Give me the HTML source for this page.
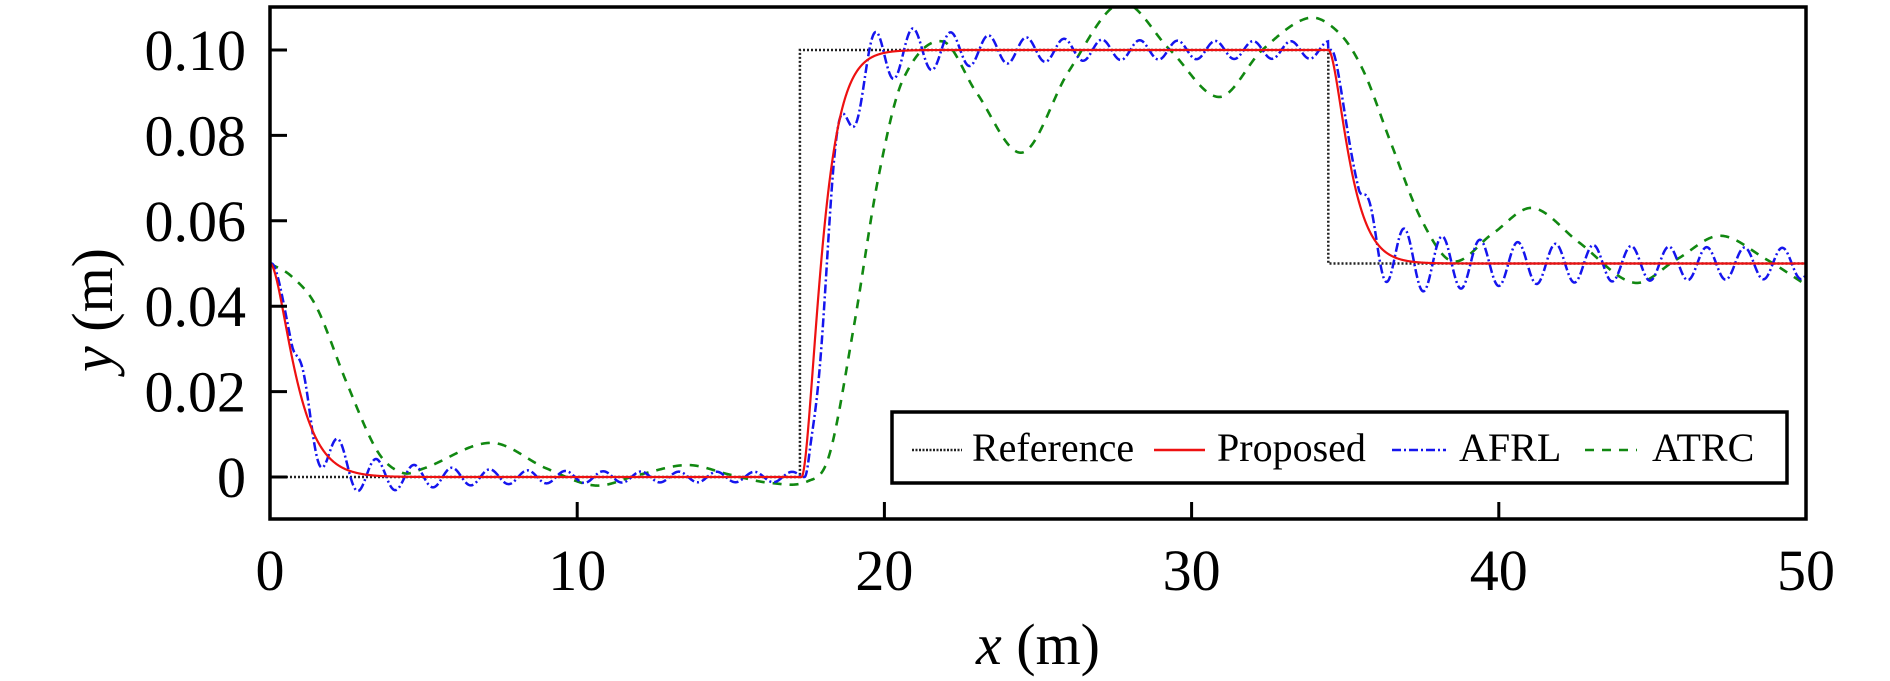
<!DOCTYPE html>
<html><head><meta charset="utf-8"><style>
html,body{margin:0;padding:0;background:#fff;}
svg{display:block;}
text{font-family:"Liberation Serif","Times New Roman",serif;fill:#000;}
</style></head><body>
<svg id="s" width="1890" height="681" viewBox="0 0 1890 681" xmlns="http://www.w3.org/2000/svg">
<defs><clipPath id="cp"><rect x="270" y="7" width="1536" height="512"/></clipPath></defs>
<rect width="1890" height="681" fill="#fff"/>
<g clip-path="url(#cp)">
<path id="ref" fill="none" stroke="#222" stroke-width="2.5" stroke-dasharray="2,2"/>
<path id="grn" fill="none" stroke="#118811" stroke-width="2.6" stroke-dasharray="9,8"/>
<path id="blu" fill="none" stroke="#1515ee" stroke-width="2.5" stroke-dasharray="9,3,2,3"/>
<path id="red" fill="none" stroke="#ee1111" stroke-width="2.2"/>
</g>
<rect x="270" y="7" width="1536" height="512" fill="none" stroke="#000" stroke-width="3.5"/>
<g stroke="#000" stroke-width="3" id="ticks"></g>
<g font-size="58" text-anchor="end" id="ylab"></g>
<g font-size="58" text-anchor="middle" id="xlab"></g>
<text x="0" y="0" font-size="58" text-anchor="middle" transform="translate(112,310) rotate(-90)"><tspan font-style="italic">y</tspan> (m)</text>
<text x="1038" y="664" font-size="58" text-anchor="middle"><tspan font-style="italic">x</tspan> (m)</text>
<rect x="892" y="412" width="895" height="71" fill="#fff" stroke="#000" stroke-width="3.5"/>
<line x1="912" y1="450" x2="962" y2="450" stroke="#222" stroke-width="2.5" stroke-dasharray="2,1.5"/>
<text x="972" y="461" font-size="40">Reference</text>
<line x1="1154" y1="450" x2="1205" y2="450" stroke="#ee1111" stroke-width="2.5"/>
<text x="1217" y="461" font-size="40">Proposed</text>
<line x1="1392" y1="450" x2="1446" y2="450" stroke="#1515ee" stroke-width="2.5" stroke-dasharray="9,3,2,3"/>
<text x="1459" y="461" font-size="40">AFRL</text>
<line x1="1585" y1="450" x2="1637" y2="450" stroke="#118811" stroke-width="2.5" stroke-dasharray="9,8"/>
<text x="1652" y="461" font-size="40">ATRC</text>
</svg>
<script>
var X=function(x){return 270+30.72*x;},Y=function(y){return 477-4270*y;};
var ns="http://www.w3.org/2000/svg";
function el(p,t,a,txt){var e=document.createElementNS(ns,t);for(var k in a)e.setAttribute(k,a[k]);if(txt!=null)e.textContent=txt;document.getElementById(p).appendChild(e);}
for(var i=0;i<=5;i++){var xx=X(i*10);el("ticks","line",{x1:xx,y1:519,x2:xx,y2:502});el("xlab","text",{x:xx,y:590},String(i*10));}
var yl=["0","0.02","0.04","0.06","0.08","0.10"];
for(var i=0;i<=5;i++){var yy=Y(i*0.02);el("ticks","line",{x1:270,y1:yy,x2:287,y2:yy});el("ylab","text",{x:246,y:yy+20},yl[i]);}
var T1=17.25,T2=34.45;
function cd(s,tau){if(s<=0)return 1;var u=s/tau;return (1+u)*Math.exp(-u);}
function red(x){
 if(x<T1)return 0.05*cd(x,0.48);
 if(x<T2)return 0.1+(0-0.1)*cd(x-T1-0.05,0.38);
 return 0.05+(0.1-0.05)*cd(x-T2,0.4);}
function osc(s,a0,ai,L,ph){if(s<=0)return 0;var a=ai+(a0-ai)*Math.exp(-s/L);return a*Math.sin(2*Math.PI*s/1.23+ph)*(1-Math.exp(-s/0.3));}
function blu(x){
 if(x<T1)return 0.05*cd(x-0.05,0.5)+osc(x-0.7,0.009,0.0012,2.5,0);
 if(x<T2)return 0.1-0.1*cd(x-T1-0.15,0.42)+osc(x-T1-0.3,0.012,0.002,3,Math.PI);
 return 0.05+0.05*cd(x-T2-0.1,0.4)+osc(x-T2-1.0,0.009,0.0035,4,0.3);}
var G=[[0,0.05],[0.7,0.047],[1.5,0.04],[2.5,0.022],[3.5,0.006],[4.3,0.001],[5,0.002],[7.2,0.008],[9,0.002],[10.6,-0.002],[12,0.0005],[13.6,0.0028],[15,0.0005],[16.3,-0.0014],[17.5,-0.001],[18.2,0.005],[19,0.035],[19.8,0.07],[20.6,0.093],[21.9,0.102],[23,0.09],[24.5,0.076],[26,0.095],[27.7,0.111],[29.3,0.1],[30.9,0.089],[32.3,0.1],[33.8,0.1075],[34.8,0.104],[35.6,0.095],[36.5,0.078],[37.5,0.06],[38.5,0.0505],[39.8,0.057],[41.1,0.063],[42.6,0.055],[44.4,0.0455],[45.8,0.051],[47.2,0.0565],[48.7,0.051],[50,0.045]];
function grn(x){
 for(var i=0;i<G.length-1;i++){if(x<=G[i+1][0]){
  var p0=G[Math.max(i-1,0)],p1=G[i],p2=G[i+1],p3=G[Math.min(i+2,G.length-1)];
  var h=p2[0]-p1[0],t=(x-p1[0])/h;
  var m1=(p2[1]-p0[1])/(p2[0]-p0[0]||1)*h,m2=(p3[1]-p1[1])/(p3[0]-p1[0]||1)*h;
  var t2=t*t,t3=t2*t;
  return (2*t3-3*t2+1)*p1[1]+(t3-2*t2+t)*m1+(-2*t3+3*t2)*p2[1]+(t3-t2)*m2;}}
 return G[G.length-1][1];}
function path(f){var d="";for(var i=0;i<=5000;i++){var x=i*0.01;d+=(i?"L":"M")+X(x).toFixed(2)+","+Y(f(x)).toFixed(2);}return d;}
document.getElementById("red").setAttribute("d",path(red));
document.getElementById("blu").setAttribute("d",path(blu));
document.getElementById("grn").setAttribute("d",path(grn));
document.getElementById("ref").setAttribute("d","M"+X(0)+","+Y(0)+"L"+X(T1)+","+Y(0)+"L"+X(T1)+","+Y(0.1)+"L"+X(T2)+","+Y(0.1)+"L"+X(T2)+","+Y(0.05)+"L"+X(50)+","+Y(0.05));
</script>
</body></html>
